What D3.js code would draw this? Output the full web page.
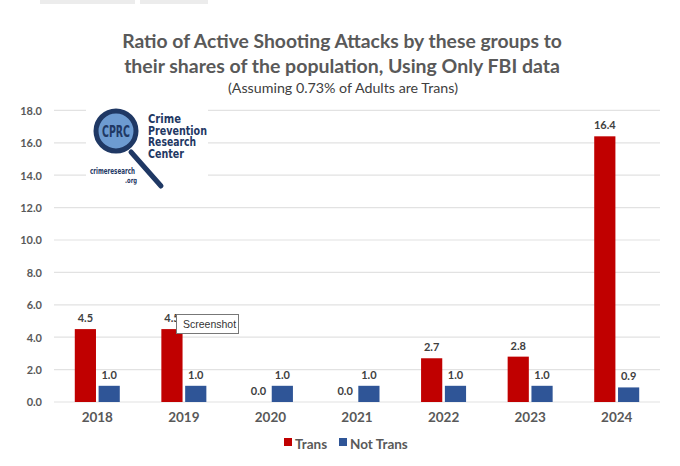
<!DOCTYPE html>
<html><head><meta charset="utf-8">
<script src="https://cdn.jsdelivr.net/npm/d3@7"></script>
<style>body{margin:0;background:#fff}svg{display:block}</style>
</head><body>
<script>
const years = ["2018","2019","2020","2021","2022","2023","2024"];
const trans = [4.5,4.5,0.0,0.0,2.7,2.8,16.4];
const notTrans = [1.0,1.0,1.0,1.0,1.0,1.0,0.9];
const yTicks = [0,2,4,6,8,10,12,14,16,18];
const seriesNames = ["Trans","Not Trans"];
const colors = ["#c00000","#2f5597"];
const titleLines = ["Ratio of Active Shooting Attacks by these groups to","their shares of the population, Using Only FBI data"];
const subtitle = "(Assuming 0.73% of Adults are Trans)";

const W=680,H=466;
const font = "Lato, 'Open Sans', sans-serif";
const grey = "#595959";
const svg = d3.select("body").append("svg").attr("width",W).attr("height",H);
svg.append("rect").attr("width",W).attr("height",H).attr("fill","#fff");
// faint browser tabs at top
svg.append("rect").attr("x",40).attr("y",0).attr("width",95).attr("height",4).attr("fill","#ececec");
svg.append("rect").attr("x",140).attr("y",0).attr("width",68).attr("height",4).attr("fill","#ececec");

const x0 = d3.scaleBand().domain(years).range([54,660]).paddingInner(0).paddingOuter(0);
const x1 = d3.scaleBand().domain(seriesNames).range([0,45]).paddingInner(0.11);
const y = d3.scaleLinear().domain([0,18]).range([402,110.4]);

// gridlines
svg.append("g").selectAll("line").data(yTicks).join("line")
  .attr("x1",54).attr("x2",660).attr("y1",d=>y(d)).attr("y2",d=>y(d))
  .attr("stroke","#e2e2e2").attr("stroke-width",1.2);

// y axis labels
const yAxis = d3.axisLeft(y).tickValues(yTicks).tickFormat(d3.format(".1f")).tickSize(0).tickPadding(0);
const ga = svg.append("g").attr("transform","translate(42,0)").call(yAxis);
ga.select(".domain").remove();
ga.selectAll("text").attr("font-family",font).attr("font-weight","bold").attr("font-size",11).attr("fill",grey).attr("dy","0.35em");

// x axis labels
const xAxis = d3.axisBottom(x0).tickSize(0).tickPadding(0);
const gx = svg.append("g").attr("transform","translate(0,412)").call(xAxis);
gx.select(".domain").remove();
gx.selectAll("text").attr("font-family",font).attr("font-weight","bold").attr("font-size",13.5).attr("fill",grey).attr("dy","0.75em");

// bars
const rows = years.map((yr,i)=>({yr, vals:[{k:"Trans",v:trans[i]},{k:"Not Trans",v:notTrans[i]}]}));
const grp = svg.append("g").selectAll("g").data(rows).join("g")
  .attr("transform",d=>`translate(${x0(d.yr)+x0.bandwidth()/2-22.5},0)`);
grp.selectAll("rect").data(d=>d.vals).join("rect")
  .attr("x",d=>x1(d.k)).attr("width",x1.bandwidth())
  .attr("y",d=>y(d.v)).attr("height",d=>y(0)-y(d.v))
  .attr("fill",(d,i)=>colors[i]);
grp.selectAll("text").data(d=>d.vals).join("text")
  .attr("x",d=>x1(d.k)+x1.bandwidth()/2).attr("y",d=>y(d.v)-7)
  .attr("text-anchor","middle").attr("font-family",font).attr("font-weight","bold")
  .attr("font-size",11).attr("fill","#404040").text(d=>d3.format(".1f")(d.v));

// title
const tg = svg.append("g");
const tl1 = tg.append("text").attr("x",342).attr("y",48).text(titleLines[0]);
const tl2 = tg.append("text").attr("x",342).attr("y",73).text(titleLines[1]);
[tl1,tl2].forEach((t,i)=>{
  t.attr("text-anchor","middle").attr("font-family",font).attr("font-weight","bold").attr("font-size",20).attr("fill",grey);
  const target = i===0?440:436;
  const w = t.node().getComputedTextLength();
  t.attr("font-size",20*target/w);
});
const st = svg.append("text").attr("x",343).attr("y",93).attr("text-anchor","middle")
  .attr("font-family",font).attr("font-size",13).attr("fill","#404040").text(subtitle);
{ const w = st.node().getComputedTextLength(); st.attr("font-size",13*230/w); }

// legend
const leg = svg.append("g");
const legItems = [{n:seriesNames[0],c:colors[0],x:284},{n:seriesNames[1],c:colors[1],x:339}];
legItems.forEach(it=>{
  leg.append("rect").attr("x",it.x).attr("y",438).attr("width",8).attr("height",8).attr("fill",it.c);
  leg.append("text").attr("x",it.x+11).attr("y",448.5).attr("font-family",font).attr("font-weight","bold")
    .attr("font-size",13.5).attr("fill",grey).text(it.n);
});

// logo
const navy = "#1f3864";
const lf = "'DejaVu Sans Condensed','Liberation Sans',sans-serif";
const logo = svg.append("g");
logo.append("rect").attr("x",86).attr("y",100).attr("width",122).attr("height",95).attr("fill","#fff");
logo.append("line").attr("x1",131).attr("y1",152).attr("x2",161).attr("y2",186)
  .attr("stroke",navy).attr("stroke-width",5).attr("stroke-linecap","round");
logo.append("circle").attr("cx",116).attr("cy",131).attr("r",20).attr("fill","#6d9bd1").attr("stroke",navy).attr("stroke-width",5);
logo.append("text").attr("x",102).attr("y",137).attr("font-family",lf)
  .attr("font-weight","bold").attr("font-size",16).attr("fill",navy)
  .attr("textLength",28).attr("lengthAdjust","spacingAndGlyphs").text("CPRC");
const logoLines = [["Crime",33],["Prevention",59],["Research",48],["Center",36]];
logoLines.forEach(([s,w],i)=>{
  logo.append("text").attr("x",148).attr("y",123+i*11.5).attr("font-family",lf)
    .attr("font-weight","bold").attr("font-size",11.5).attr("fill",navy)
    .attr("textLength",w).attr("lengthAdjust","spacingAndGlyphs").text(s);
});
logo.append("text").attr("x",90).attr("y",174).attr("font-family",lf)
  .attr("font-weight","bold").attr("font-size",8.5).attr("fill",navy)
  .attr("textLength",45).attr("lengthAdjust","spacingAndGlyphs").text("crimeresearch");
logo.append("text").attr("x",125).attr("y",183).attr("font-family",lf)
  .attr("font-weight","bold").attr("font-size",7.5).attr("fill",navy)
  .attr("textLength",12).attr("lengthAdjust","spacingAndGlyphs").text(".org");

// screenshot tooltip
const tip = svg.append("g");
tip.append("rect").attr("x",176.5).attr("y",314.5).attr("width",62).attr("height",19).attr("fill","#fff").attr("stroke","#777").attr("stroke-width",1);
tip.append("text").attr("x",183).attr("y",328).attr("font-family","'Liberation Sans',sans-serif").attr("font-size",10.5).attr("fill","#333").text("Screenshot");
</script>
</body></html>
